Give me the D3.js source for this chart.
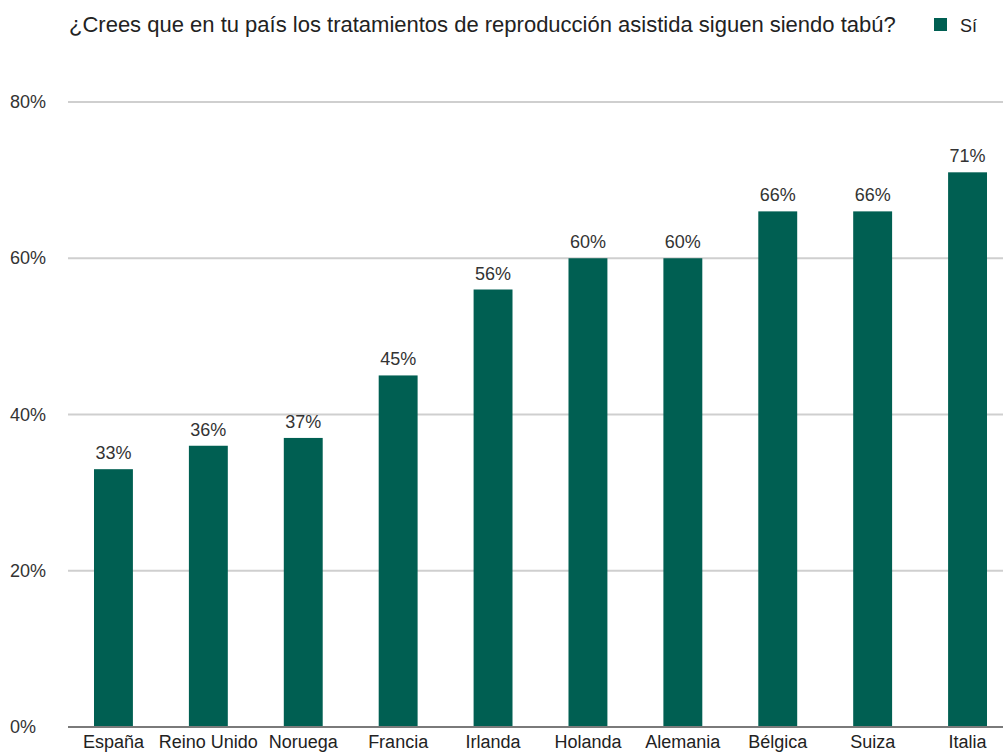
<!DOCTYPE html>
<html>
<head>
<meta charset="utf-8">
<script src="https://cdn.jsdelivr.net/npm/d3@7"></script>
<style>
  body { margin: 0; background: #fff; }
  svg { display: block; font-family: "Liberation Sans", Arial, Helvetica, sans-serif; }
</style>
</head>
<body>
<svg id="chart" width="1003" height="754"></svg>
<script>
// data
const countries = ["España", "Reino Unido", "Noruega", "Francia", "Irlanda", "Holanda", "Alemania", "Bélgica", "Suiza", "Italia"];
const values = [33, 36, 37, 45, 56, 60, 60, 66, 66, 71];
const yTicks = [0, 20, 40, 60, 80];
const seriesName = "Sí";
const title = "¿Crees que en tu país los tratamientos de reproducción asistida siguen siendo tabú?";

const width = 1003;
const height = 754;
const barColor = "#005f52";

const svg = d3.select("#chart");

// scales
const x = d3.scaleBand()
  .domain(countries)
  .range([66, 1015])
  .paddingInner(0.59)
  .paddingOuter(0.295);

const y = d3.scaleLinear()
  .domain([0, 80])
  .range([727, 102]);

// gridlines
svg.append("g")
  .selectAll("line")
  .data(yTicks.filter(d => d > 0))
  .join("line")
  .attr("x1", 68)
  .attr("x2", width)
  .attr("y1", d => y(d))
  .attr("y2", d => y(d))
  .attr("stroke", "#cfcfcf")
  .attr("stroke-width", 2);

// y labels
svg.append("g")
  .selectAll("text")
  .data(yTicks)
  .join("text")
  .attr("x", 10)
  .attr("y", d => y(d) + 6)
  .attr("font-size", 18)
  .attr("fill", "#333")
  .text(d => d + "%");

// bars
svg.append("g")
  .selectAll("rect")
  .data(values)
  .join("rect")
  .attr("x", (d, i) => x(countries[i]))
  .attr("width", x.bandwidth())
  .attr("y", d => y(d))
  .attr("height", d => y(0) - y(d))
  .attr("fill", barColor);

// value labels
svg.append("g")
  .selectAll("text")
  .data(values)
  .join("text")
  .attr("x", (d, i) => x(countries[i]) + x.bandwidth() / 2)
  .attr("y", d => y(d) - 10)
  .attr("text-anchor", "middle")
  .attr("font-size", 18)
  .attr("fill", "#333")
  .text(d => d + "%");

// baseline
svg.append("line")
  .attr("x1", 68)
  .attr("x2", width)
  .attr("y1", y(0))
  .attr("y2", y(0))
  .attr("stroke", "#7a7a7a")
  .attr("stroke-width", 2);

// category labels
svg.append("g")
  .selectAll("text")
  .data(countries)
  .join("text")
  .attr("x", d => x(d) + x.bandwidth() / 2)
  .attr("y", 748)
  .attr("text-anchor", "middle")
  .attr("font-size", 18)
  .attr("fill", "#222")
  .text(d => d);

// title
svg.append("text")
  .attr("x", 69)
  .attr("y", 32)
  .attr("font-size", 22)
  .attr("fill", "#222")
  .text(title);

// legend
svg.append("rect")
  .attr("x", 934)
  .attr("y", 18)
  .attr("width", 13)
  .attr("height", 13)
  .attr("fill", barColor);

svg.append("text")
  .attr("x", 960)
  .attr("y", 32)
  .attr("font-size", 18)
  .attr("fill", "#222")
  .text(seriesName);
</script>
</body>
</html>
